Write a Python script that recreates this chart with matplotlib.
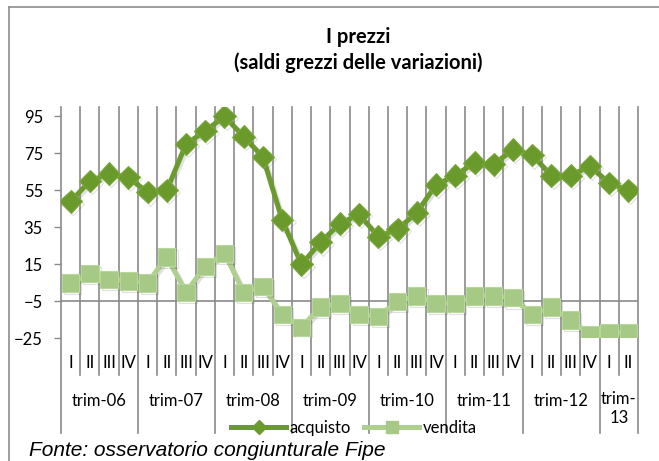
import matplotlib
matplotlib.use("Agg")
import matplotlib.pyplot as plt
import matplotlib.patheffects as pe
from matplotlib.lines import Line2D

# data (2006 I .. 2013 II)
years = ["trim-06", "trim-07", "trim-08", "trim-09", "trim-10", "trim-11", "trim-12", "trim-\n13"]
quarters_per_year = [4, 4, 4, 4, 4, 4, 4, 2]
quarter_names = ["I", "II", "III", "IV"]

acquisto = [49, 60, 64, 62, 54, 55, 80, 87, 95, 84, 73, 39, 15, 27, 37, 42,
            30, 34, 43, 58, 63, 70, 69, 77, 74, 63, 63, 68, 59, 55]
vendita = [5, 10, 7, 6, 5, 19, 0, 14, 21, 0, 3, -12, -19, -8, -6, -12,
           -13, -5, -2, -6, -6, -2, -2, -3, -12, -8, -15, -23, -22, -22]

yticks = [-25, -5, 15, 35, 55, 75, 95]

W, H = 659, 461
plt.rcParams['font.family'] = ['Lato', 'DejaVu Sans']

fig = plt.figure(figsize=(W / 100, H / 100), dpi=100)
ax = fig.add_axes([61 / W, 1 - 338.5 / H, (638 - 61) / W, (338.5 - 107) / H])

n = len(acquisto)
x = [i + 0.5 for i in range(n)]
grid_col = '#8a8a8a'
c_acq = '#6b9a2e'
c_ven = '#aecf8d'

shadow = [pe.SimpleLineShadow(offset=(1.5, -1.5), shadow_color='#555555', alpha=0.18),
          pe.Normal()]

ax.plot(x, vendita, color=c_ven, lw=3.6, marker='s', ms=12.5, mfc='#a6c985',
        mec='#b8d79b', mew=0.8, label='vendita', zorder=4, path_effects=shadow)
ax.plot(x, acquisto, color=c_acq, lw=3.6, marker='D', ms=11.5, mfc='#6a9a2c',
        mec='#7aa83a', mew=0.8, label='acquisto', zorder=5, path_effects=shadow)

ax.set_xlim(0, n)
ax.set_ylim(-25, 100)
ax.set_yticks(yticks)
ax.set_xticks([])
for s in ax.spines.values():
    s.set_visible(False)
ax.tick_params(axis='y', direction='out', length=5, width=1, color=grid_col,
               labelsize=12, pad=8)

# horizontal axis line at -5
ax.axhline(-5, color=grid_col, lw=1.2, zorder=1)

# vertical gridlines / category separators
trans = ax.get_xaxis_transform()
span = 338.5 - 107
y_q = 1 - (375 - 107) / span
y_y = 1 - (433 - 107) / span
bounds = [0]
for q in quarters_per_year:
    bounds.append(bounds[-1] + q)
for b in range(n + 1):
    ybot = y_y if b in bounds else y_q
    ax.plot([b, b], [ybot, 1], transform=trans, color=grid_col, lw=1.2,
            clip_on=False, zorder=1)

# category labels
y_qlab = 1 - (363 - 107) / span
y_ylab = 1 - (401 - 107) / span
k = 0
for yi, q in enumerate(quarters_per_year):
    for j in range(q):
        ax.text(k + j + 0.5, y_qlab, quarter_names[j], transform=trans,
                ha='center', va='center', fontsize=12)
    if '\n' in years[yi]:
        ax.text(k + q / 2, y_ylab + 10 / span, years[yi], transform=trans,
                ha='center', va='top', fontsize=12, linespacing=1.2)
    else:
        ax.text(k + q / 2, y_ylab, years[yi], transform=trans,
                ha='center', va='center', fontsize=12)
    k += q

# title
fig.text(358 / W, 1 - 37 / H, "I prezzi", ha='center', va='center',
         fontsize=14.5, fontweight='bold')
fig.text(358 / W, 1 - 63 / H, "(saldi grezzi delle variazioni)", ha='center',
         va='center', fontsize=14.5, fontweight='bold')

# legend
h_acq = Line2D([], [], color=c_acq, lw=3.6, marker='D', ms=7, mfc=c_acq, mec=c_acq)
h_ven = Line2D([], [], color=c_ven, lw=3.6, marker='s', ms=8, mfc='#a6c985', mec='#a6c985')
fig.legend([h_acq, h_ven], ['acquisto', 'vendita'], loc='center',
           bbox_to_anchor=(354 / W, 1 - 428 / H), ncol=2, frameon=False,
           fontsize=12, handlelength=3.3, handletextpad=0.2, columnspacing=0.8,
           borderpad=0, numpoints=1)

# source note
fig.text(29 / W, 1 - 450 / H, "Fonte: osservatorio congiunturale Fipe",
         ha='left', va='center', fontsize=15, style='italic',
         family=['Liberation Sans', 'DejaVu Sans'])

# outer frame (left and top edges visible)
fig.add_artist(Line2D([9 / W, 9 / W], [0, 1 - 7 / H], color='#8c8c8c', lw=1.2))
fig.add_artist(Line2D([9 / W, 1], [1 - 7 / H, 1 - 7 / H], color='#8c8c8c', lw=1.2))

fig.savefig("out.png", dpi=100)
